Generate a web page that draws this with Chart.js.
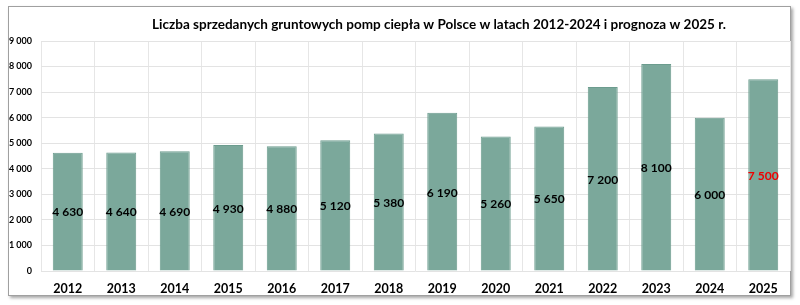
<!DOCTYPE html>
<html>
<head>
<meta charset="utf-8">
<script src="https://cdn.jsdelivr.net/npm/chart.js@4"></script>
<style>
html,body{margin:0;padding:0;background:#fff;}
#ramka{
position:absolute;
left:8px;top:6px;
width:781px;height:288px;
border:1px solid #a0a0a0;
box-shadow:2px 2px 3px rgba(0,0,0,.35);
background:#fff;
}
#wrap{position:absolute;left:0;top:0;width:800px;height:305px;}
</style>
</head>
<body>
<div id="ramka"></div>
<div id="wrap"><canvas id="graficoPompy" width="800" height="305"></canvas></div>
<script>

const tytul = "Liczba sprzedanych gruntowych pomp ciepła w Polsce w latach 2012-2024 i prognoza w 2025 r.";

const lata = ["2012","2013","2014","2015","2016","2017","2018","2019","2020","2021","2022","2023","2024","2025"];

const sprzedaz = [4630,4640,4690,4930,4880,5120,5380,6190,5260,5650,7200,8100,6000,7500];

const kolorEtykiet = ["#000","#000","#000","#000","#000","#000","#000","#000","#000","#000","#000","#000","#000","#f00000"];

const FONT = "Lato, 'Open Sans', sans-serif";


function formatLiczby(v){
return String(v).replace(/\B(?=(\d{3})+(?!\d))/g," ");
}


// tytul troche przesuniety w prawo, jak w oryginale
const tytulWykresu = {
id:"tytulWykresu",
afterDraw(chart){
const ctx = chart.ctx;
ctx.save();
ctx.font = "bold 13.5px " + FONT;
ctx.fillStyle = "#000";
ctx.textAlign = "center";
ctx.textBaseline = "middle";
ctx.fillText(tytul, chart.width/2 + 39, 25);
ctx.restore();
}
};


// etykiety w srodku slupkow
const etykietySlupkow = {
id:"etykietySlupkow",
afterDatasetsDraw(chart){
const ctx = chart.ctx;
const meta = chart.getDatasetMeta(0);
ctx.save();
ctx.font = "bold 12px " + FONT;
ctx.textAlign = "center";
ctx.textBaseline = "middle";
meta.data.forEach((bar,i)=>{
const y = (bar.y + bar.base) / 2;
ctx.fillStyle = kolorEtykiet[i];
ctx.fillText(formatLiczby(sprzedaz[i]), bar.x, y + 1);
});
ctx.restore();
}
};


new Chart(
document.getElementById("graficoPompy"),
{
type:"bar",

data:{
labels:lata,
datasets:[{
data:sprzedaz,
backgroundColor:"#7BA89B",
borderColor:"#6C9C8E",
borderWidth:1,
barPercentage:0.56,
categoryPercentage:1
}]
},

options:{
responsive:false,
animation:false,
layout:{
padding:{left:5,right:10,bottom:9,top:41}
},
plugins:{
legend:{display:false},
tooltip:{enabled:false},
title:{display:false}
},
scales:{
x:{
grid:{color:"#e6e6e6",drawTicks:false},
border:{display:false},
afterFit(scale){ scale.height = 25; },
ticks:{
color:"#000",
padding:10,
font:{family:FONT,size:12.5,weight:"bold",lineHeight:1.3}
}
},
y:{
min:0,
max:9000,
grid:{color:"#e3e3e3",drawTicks:false},
border:{display:false},
afterFit(scale){ scale.width = 36; },
ticks:{
stepSize:1000,
color:"#000",
padding:9,
font:{family:FONT,size:9,weight:"bold"},
callback:(v)=>formatLiczby(v)
}
}
}
},

plugins:[etykietySlupkow,tytulWykresu]
}
);

</script>
</body>
</html>
